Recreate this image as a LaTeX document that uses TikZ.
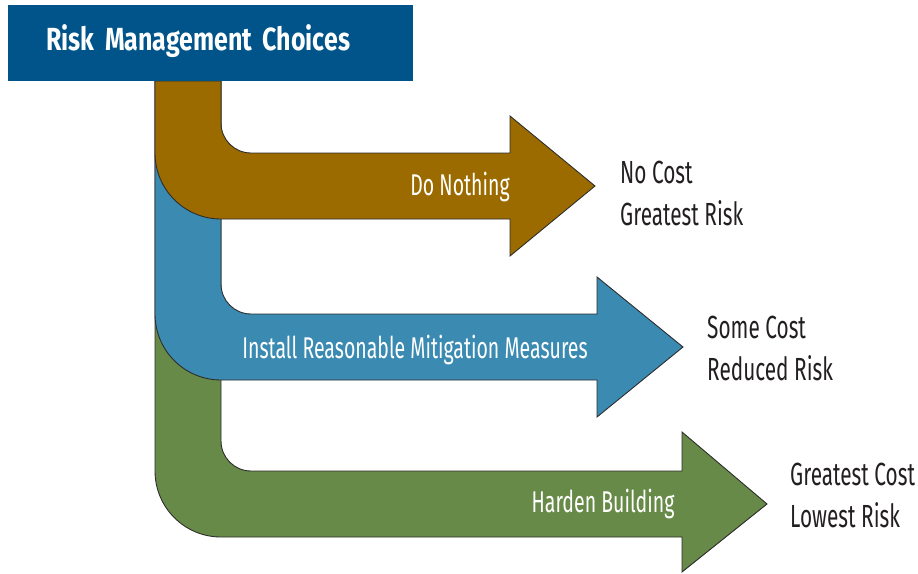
\documentclass[tikz,border=0pt]{standalone}
\usepackage{fontspec}
\setmainfont{Fira Sans}[FakeStretch=0.65]
\newfontfamily\titlefont{Fira Sans}[FakeStretch=0.78]
\usepackage{tikz}
\usetikzlibrary{positioning}
\usepackage{xcolor}

\definecolor{titleblue}{RGB}{0,84,138}
\definecolor{nothingbrown}{RGB}{155,107,0}
\definecolor{mitigateblue}{RGB}{58,138,178}
\definecolor{hardengreen}{RGB}{103,138,72}
\definecolor{outline}{RGB}{45,45,45}
\definecolor{darktext}{RGB}{35,31,32}

\begin{document}
\begin{tikzpicture}[x=1pt, y=-1pt]
                        \tikzset{Band/.style={%
                                draw=outline,%
                                line width=0.9pt,%
                                line join=miter,%
                            },
                            Choice/.style={%
                                text=white,%
                                anchor=base,%
                                inner sep=0pt,%
                                font=\fontsize{30}{36}\selectfont,%
                            },
                            Outcome/.style={%
                                text=darktext,%
                                anchor=base west,%
                                align=left,%
                                inner sep=0pt,%
                                font=\fontsize{32}{42}\selectfont,%
                            }}
                            \useasboundingbox (0,0) rectangle (918,573);

                            % green band, bottom
                            \draw[Band, fill=hardengreen] (155,81) -- (155,471)
                                arc[start angle=180, end angle=90, radius=66] -- (682,537)
                                -- (682,572) -- (767,504) -- (682,432) -- (682,471) -- (251,471)
                                arc[start angle=90, end angle=180, radius=30] -- (221,81) -- cycle;
                            % blue band, middle
                            \draw[Band, fill=mitigateblue] (155,81) -- (155,314)
                                arc[start angle=180, end angle=90, radius=66] -- (597,380)
                                -- (597,417) -- (683,347) -- (597,277) -- (597,314) -- (251,314)
                                arc[start angle=90, end angle=180, radius=30] -- (221,81) -- cycle;
                            % brown band, top
                            \draw[Band, fill=nothingbrown] (155,81) -- (155,153)
                                arc[start angle=180, end angle=90, radius=66] -- (510,219)
                                -- (510,256) -- (595,186) -- (510,116) -- (510,153) -- (251,153)
                                arc[start angle=90, end angle=180, radius=30] -- (221,81) -- cycle;

                            \node[fill=titleblue, anchor=north west, inner ysep=0pt, inner xsep=38pt,%
                                text width=329pt, text height=45pt, text depth=31pt, text=white,%
                                font=\titlefont\bfseries\fontsize{32}{36}\selectfont] (title) at (8,5) {Risk Management Choices};

                            \node[Choice] (nothing) at (460,195) {Do Nothing};
                            \node[Choice] (mitigate) at (415,358) {Install Reasonable Mitigation Measures};
                            \node[Choice] (harden) at (603,512) {Harden Building};

                            \node[Outcome] (nocost) at (620,225) {No Cost\\Greatest Risk};
                            \node[Outcome] (somecost) at (707,380) {Some Cost\\Reduced Risk};
                            \node[Outcome] (bigcost) at (790,527) {Greatest Cost\\Lowest Risk};
                    \end{tikzpicture}
\end{document}
